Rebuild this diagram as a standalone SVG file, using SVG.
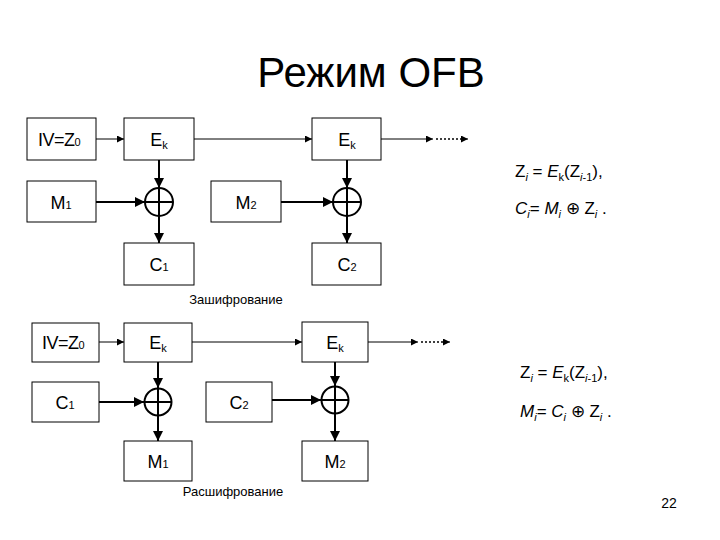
<svg xmlns="http://www.w3.org/2000/svg" width="720" height="540" viewBox="0 0 720 540">
<defs>
<marker id="ah" viewBox="0 0 10 10" refX="10" refY="5" markerWidth="7" markerHeight="7" markerUnits="userSpaceOnUse" orient="auto"><path d="M0,0 L10,5 L0,10 z" fill="#000"/></marker>
<marker id="ah2" viewBox="0 0 10 10" refX="10" refY="5" markerWidth="5" markerHeight="5" orient="auto"><path d="M0,0 L10,5 L0,10 z" fill="#000"/></marker>
</defs>
<style>
.box{fill:#fff;stroke:#000;stroke-width:1}
.t{font-family:"Liberation Sans",Arial,sans-serif;fill:#000}
.bl{font-size:18px;text-anchor:middle}
.thin{stroke:#000;stroke-width:1;fill:none}
.thick{stroke:#000;stroke-width:2;fill:none}
.dot{stroke:#000;stroke-width:1.5;stroke-dasharray:2,2;fill:none}
.f{font-size:17px}
</style>
<rect width="720" height="540" fill="#fff"/>
<text class="t" x="371" y="87" font-size="42" text-anchor="middle">Режим OFB</text>

<g id="connectors">
<line class="thin" x1="96" y1="139" x2="124" y2="139" marker-end="url(#ah)"/>
<line class="thin" x1="194" y1="139" x2="312" y2="139" marker-end="url(#ah)"/>
<line class="thin" x1="381" y1="139" x2="433" y2="139" marker-end="url(#ah)"/>
<line class="dot" x1="436" y1="139" x2="462" y2="139"/>
<line class="thin" x1="462" y1="139" x2="468" y2="139" marker-end="url(#ah)"/>
<line class="thick" x1="159" y1="160" x2="159" y2="188" marker-end="url(#ah2)"/>
<line class="thick" x1="96" y1="202" x2="145" y2="202" marker-end="url(#ah2)"/>
<line class="thick" x1="159" y1="216" x2="159" y2="243" marker-end="url(#ah2)"/>
<line class="thick" x1="347" y1="160" x2="347" y2="188" marker-end="url(#ah2)"/>
<line class="thick" x1="281" y1="202" x2="333" y2="202" marker-end="url(#ah2)"/>
<line class="thick" x1="347" y1="216" x2="347" y2="243" marker-end="url(#ah2)"/>

<line class="thin" x1="99" y1="342" x2="124" y2="342" marker-end="url(#ah)"/>
<line class="thin" x1="192" y1="342" x2="302" y2="342" marker-end="url(#ah)"/>
<line class="thin" x1="368" y1="342" x2="418" y2="342" marker-end="url(#ah)"/>
<line class="dot" x1="421" y1="342" x2="444" y2="342"/>
<line class="thin" x1="444" y1="342" x2="450" y2="342" marker-end="url(#ah)"/>
<line class="thick" x1="158" y1="362" x2="158" y2="388" marker-end="url(#ah2)"/>
<line class="thick" x1="99" y1="402" x2="144" y2="402" marker-end="url(#ah2)"/>
<line class="thick" x1="158" y1="416" x2="158" y2="441" marker-end="url(#ah2)"/>
<line class="thick" x1="335" y1="362" x2="335" y2="386" marker-end="url(#ah2)"/>
<line class="thick" x1="272" y1="400" x2="321" y2="400" marker-end="url(#ah2)"/>
<line class="thick" x1="335" y1="414" x2="335" y2="441" marker-end="url(#ah2)"/>
</g>

<g id="iv1"><rect class="box" x="27" y="118" width="69" height="42"/><text class="t" x="38" y="146" font-size="18" letter-spacing="-0.5">IV=Z<tspan font-size="11">0</tspan></text></g>
<g id="ek1"><rect class="box" x="124" y="118" width="70" height="42"/><text class="t bl" x="159" y="146">E<tspan font-size="11" dy="3">k</tspan></text></g>
<g id="ek2"><rect class="box" x="312" y="118" width="69" height="42"/><text class="t bl" x="347" y="146">E<tspan font-size="11" dy="3">k</tspan></text></g>
<g id="m1"><rect class="box" x="27" y="181" width="69" height="41"/><text class="t bl" x="61" y="209">M<tspan font-size="11">1</tspan></text></g>
<g id="m2"><rect class="box" x="211" y="181" width="70" height="41"/><text class="t bl" x="246" y="209">M<tspan font-size="11">2</tspan></text></g>
<g id="xor1"><circle class="thick" cx="159" cy="202" r="14"/><line class="thick" x1="145" y1="202" x2="173" y2="202"/><line class="thick" x1="159" y1="188" x2="159" y2="216"/></g>
<g id="xor2"><circle class="thick" cx="347" cy="202" r="14"/><line class="thick" x1="333" y1="202" x2="361" y2="202"/><line class="thick" x1="347" y1="188" x2="347" y2="216"/></g>
<g id="c1"><rect class="box" x="124" y="243" width="70" height="42"/><text class="t bl" x="159" y="271">C<tspan font-size="11">1</tspan></text></g>
<g id="c2"><rect class="box" x="312" y="243" width="69" height="42"/><text class="t bl" x="347" y="271">C<tspan font-size="11">2</tspan></text></g>
<text class="t" x="236" y="304" font-size="13" text-anchor="middle">Зашифрование</text>

<text class="t f" x="515" y="177">Z<tspan font-size="11" dy="4" font-style="italic">i</tspan><tspan dy="-4"> = </tspan><tspan font-style="italic">E</tspan><tspan font-size="11" dy="4">k</tspan><tspan dy="-4">(Z</tspan><tspan font-size="11" dy="4"><tspan font-style="italic">i</tspan>-1</tspan><tspan dy="-4">),</tspan></text>
<text class="t f" x="515" y="214"><tspan font-style="italic">C</tspan><tspan font-size="11" dy="4" font-style="italic">i</tspan><tspan dy="-4">= </tspan><tspan font-style="italic">M</tspan><tspan font-size="11" dy="4" font-style="italic">i</tspan><tspan dy="-4"> ⊕ Z</tspan><tspan font-size="11" dy="4" font-style="italic">i</tspan><tspan dy="-4"> .</tspan></text>

<g id="iv2"><rect class="box" x="32" y="323" width="67" height="39"/><text class="t" x="42" y="349" font-size="18" letter-spacing="-0.5">IV=Z<tspan font-size="11">0</tspan></text></g>
<g id="ek3"><rect class="box" x="124" y="323" width="68" height="39"/><text class="t bl" x="158" y="349">E<tspan font-size="11" dy="3">k</tspan></text></g>
<g id="ek4"><rect class="box" x="302" y="322" width="66" height="40"/><text class="t bl" x="335" y="349">E<tspan font-size="11" dy="3">k</tspan></text></g>
<g id="cc1"><rect class="box" x="32" y="382" width="67" height="40"/><text class="t bl" x="65" y="409">C<tspan font-size="11">1</tspan></text></g>
<g id="cc2"><rect class="box" x="206" y="382" width="66" height="40"/><text class="t bl" x="239" y="409">C<tspan font-size="11">2</tspan></text></g>
<g id="xor3"><circle class="thick" cx="158" cy="402" r="13.5"/><line class="thick" x1="144.5" y1="402" x2="171.5" y2="402"/><line class="thick" x1="158" y1="388.5" x2="158" y2="415.5"/></g>
<g id="xor4"><circle class="thick" cx="335" cy="400" r="13.5"/><line class="thick" x1="321.5" y1="400" x2="348.5" y2="400"/><line class="thick" x1="335" y1="386.5" x2="335" y2="413.5"/></g>
<g id="mm1"><rect class="box" x="124" y="441" width="68" height="40"/><text class="t bl" x="158" y="468">M<tspan font-size="11">1</tspan></text></g>
<g id="mm2"><rect class="box" x="302" y="441" width="66" height="40"/><text class="t bl" x="335" y="468">M<tspan font-size="11">2</tspan></text></g>
<text class="t" x="233" y="496" font-size="13" text-anchor="middle">Расшифрование</text>

<text class="t f" x="520" y="378">Z<tspan font-size="11" dy="4" font-style="italic">i</tspan><tspan dy="-4"> = </tspan><tspan font-style="italic">E</tspan><tspan font-size="11" dy="4">k</tspan><tspan dy="-4">(Z</tspan><tspan font-size="11" dy="4"><tspan font-style="italic">i</tspan>-1</tspan><tspan dy="-4">),</tspan></text>
<text class="t f" x="520" y="417"><tspan font-style="italic">M</tspan><tspan font-size="11" dy="4" font-style="italic">i</tspan><tspan dy="-4">= </tspan><tspan font-style="italic">C</tspan><tspan font-size="11" dy="4" font-style="italic">i</tspan><tspan dy="-4"> ⊕ Z</tspan><tspan font-size="11" dy="4" font-style="italic">i</tspan><tspan dy="-4"> .</tspan></text>

<text class="t" x="669" y="508" font-size="14" text-anchor="middle">22</text>
</svg>
